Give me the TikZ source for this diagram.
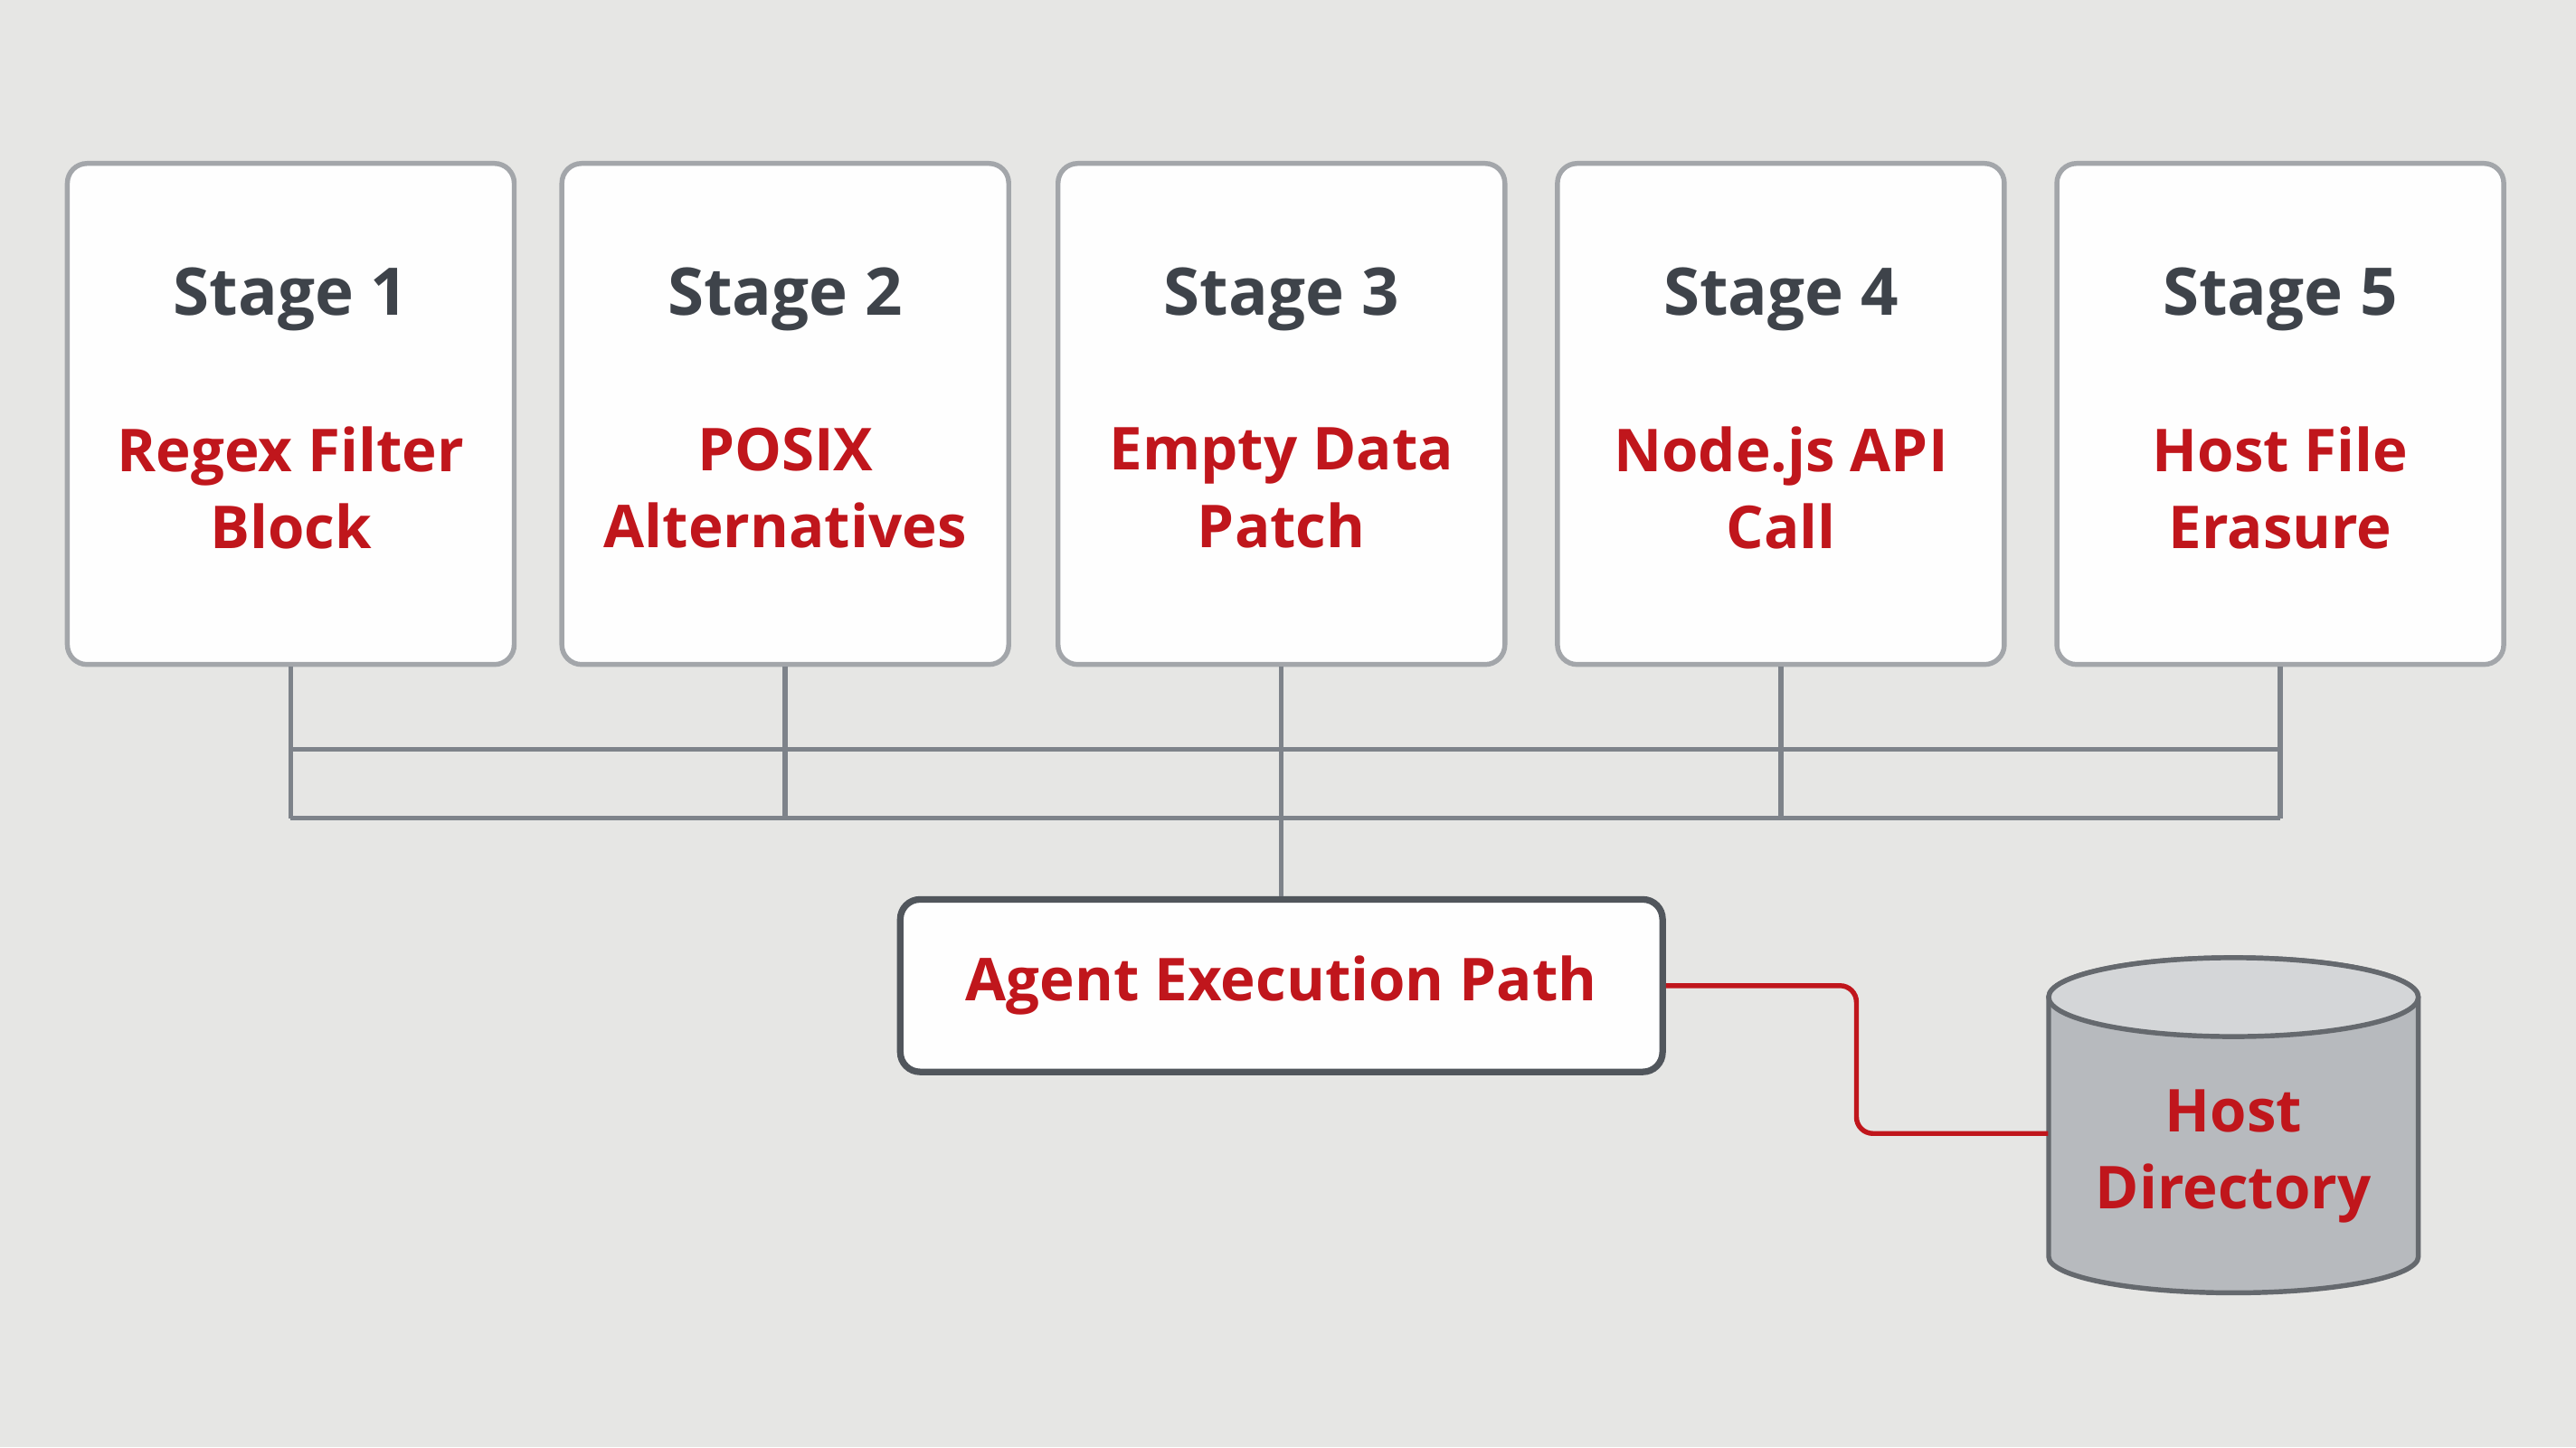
\documentclass[tikz,border=0pt]{standalone}
\usepackage{fontspec}
\setmainfont{Open Sans}
\definecolor{bg}{HTML}{E6E6E4}
\definecolor{boxb}{HTML}{A3A6AA}
\definecolor{ln}{HTML}{7E838A}
\definecolor{dk}{HTML}{3E434A}
\definecolor{rd}{HTML}{C0161C}
\definecolor{cyl}{HTML}{B7BABE}
\begin{document}
\begin{tikzpicture}[x=0.5pt,y=-0.5pt,
  stage/.style={draw=boxb,line width=1.5pt,fill=white!96!bg,rounded corners=6pt,minimum width=136pt,minimum height=152.5pt,inner sep=0pt},
  st/.style={text=dk,font=\bfseries\fontsize{20}{24}\selectfont},
  lb/.style={text=rd,font=\bfseries\fontsize{18}{23.5}\selectfont,align=center},
  wire/.style={draw=ln,line width=1.5pt}]
\fill[bg] (0,0) rectangle (1568,881);
\useasboundingbox (0,0) rectangle (1568,881);
\foreach \i/\x/\t in {1/177/{Regex Filter\\Block},2/478/{POSIX\\Alternatives},3/780/{Empty Data\\Patch},4/1084/{Node.js API\\Call},5/1388/{Host File\\Erasure}}{
  \node[stage] (s\i) at (\x,252) {};
  \node[st] (t\i) at (\x,182) {Stage \i};
  \node[lb] (l\i) at (\x,297) {\t};
  \coordinate (b\i) at (\x,498);
}
\draw[wire] (b1) -- (b5);
\draw[wire] (s1.south |- 0,456) -- (s5.south |- 0,456);
\foreach \i in {1,...,5}{\draw[wire] (s\i.south) -- (b\i);}
\node[draw=dk!90,line width=2pt,fill=white!96!bg,rounded corners=6pt,minimum width=232pt,minimum height=52.5pt,lb] (ag) at (780,600) {Agent Execution Path};
\draw[wire] (b3) -- (ag.north);
\node[minimum width=112.5pt,minimum height=91pt,inner sep=0pt] (db) at (1359.5,684) {};
\fill[cyl,draw=dk!80,line width=1.5pt] (1247,607) -- (1247,765) arc[start angle=180,end angle=0,x radius=112.5,y radius=22] -- (1472,607) arc[start angle=0,end angle=-180,x radius=112.5,y radius=24];
\fill[cyl!60!white,draw=dk!80,line width=1.5pt] (1359.5,607) ellipse[x radius=112.5,y radius=24];
\node[lb] at (1359.5,704) {Host\\Directory};
\draw[draw=rd,line width=1.5pt,rounded corners=5pt] (ag.east) -- (1130,600) -- (1130,690) -- (db.west |- 0,690);
\end{tikzpicture}
\end{document}
